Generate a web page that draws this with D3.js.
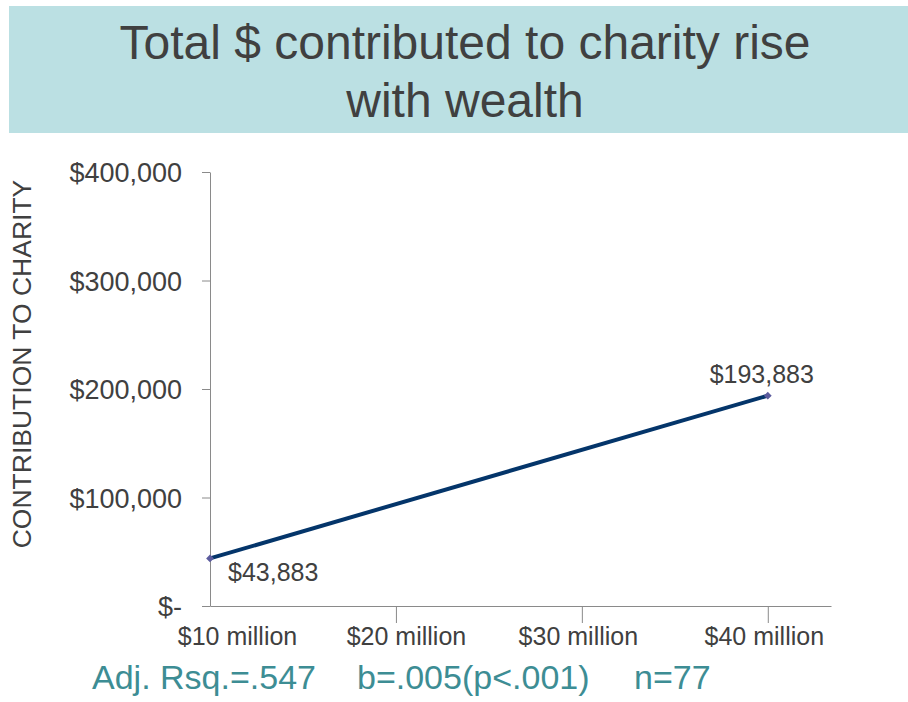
<!DOCTYPE html>
<html>
<head>
<meta charset="utf-8">
<script src="https://cdn.jsdelivr.net/npm/d3@7"></script>
<style>
  html, body { margin: 0; padding: 0; background: #ffffff; }
  svg { display: block; }
  text { font-family: "Liberation Sans", Arial, sans-serif; }
</style>
</head>
<body>
<svg id="chart" width="908" height="702"></svg>
<script>
// Regression fit: predicted contribution at low and high wealth
const wealth = [10e6, 40e6];
const contribution = [43883, 193883];

// Axis ticks and their labels
const yTicks = [0, 100000, 200000, 300000, 400000];
const yTickLabels = ["$-", "$100,000", "$200,000", "$300,000", "$400,000"];
const xTicks = [10e6, 20e6, 30e6, 40e6];
const xTickLabels = ["$10 million", "$20 million", "$30 million", "$40 million"];

const titleLines = ["Total $ contributed to charity rise", "with wealth"];
const yTitle = "CONTRIBUTION TO CHARITY";
const stats = ["Adj. Rsq.=.547", "b=.005(p<.001)", "n=77"];

const svg = d3.select("#chart");
const textColor = "#404040";
const axisColor = "#8a8a8a";

// Title banner
svg.append("rect")
  .attr("x", 9).attr("y", 6)
  .attr("width", 899).attr("height", 127)
  .attr("fill", "#bbe0e3");

svg.selectAll("text.title")
  .data(titleLines)
  .join("text")
  .attr("class", "title")
  .attr("x", 465)
  .attr("y", (d, i) => 59 + i * 58)
  .attr("text-anchor", "middle")
  .attr("font-size", 48)
  .attr("fill", textColor)
  .text(d => d);

// Scales
const x = d3.scaleLinear().domain([10e6, 43.4e6]).range([210, 831]);
const y = d3.scaleLinear().domain([0, 400000]).range([606, 172]);

// Y axis
const yAxis = svg.append("g")
  .attr("transform", `translate(${x.range()[0]},0)`)
  .call(d3.axisLeft(y)
    .tickValues(yTicks)
    .tickSize(8)
    .tickSizeOuter(0)
    .tickPadding(20)
    .tickFormat((d, i) => yTickLabels[i]));
yAxis.select(".domain").attr("stroke", axisColor);
yAxis.selectAll(".tick line").attr("stroke", axisColor);
yAxis.selectAll(".tick text")
  .attr("font-family", "Liberation Sans, Arial, sans-serif")
  .attr("font-size", 27)
  .attr("fill", textColor)
  .attr("dy", "0.36em");

// X axis
const xAxis = svg.append("g")
  .attr("transform", `translate(0,${y.range()[0]})`)
  .call(d3.axisBottom(x)
    .tickValues(xTicks)
    .tickSize(17)
    .tickSizeOuter(0)
    .tickPadding(10)
    .tickFormat((d, i) => xTickLabels[i]));
xAxis.select(".domain").attr("stroke", axisColor);
xAxis.selectAll(".tick line")
  .attr("stroke", axisColor)
  .attr("display", (d, i) => i === 0 ? "none" : null);
xAxis.selectAll(".tick text")
  .attr("font-family", "Liberation Sans, Arial, sans-serif")
  .attr("font-size", 25)
  .attr("fill", textColor)
  .attr("y", 39)
  .attr("dy", 0)
  .attr("dx", (d, i) => i === 0 ? 27 : (i === 1 ? 10 : -4));

// Y axis title
svg.append("text")
  .attr("transform", "translate(31,364) rotate(-90)")
  .attr("text-anchor", "middle")
  .attr("font-size", 26.5)
  .attr("fill", textColor)
  .text(yTitle);

// Fitted line
const pts = wealth.map((w, i) => ({ w, c: contribution[i] }));
svg.append("path")
  .datum(pts)
  .attr("fill", "none")
  .attr("stroke", "#04356a")
  .attr("stroke-width", 4)
  .attr("d", d3.line().x(d => x(d.w)).y(d => y(d.c)));

// Diamond markers
svg.selectAll("path.marker")
  .data(pts)
  .join("path")
  .attr("class", "marker")
  .attr("transform", d => `translate(${x(d.w)},${y(d.c)}) rotate(45)`)
  .attr("d", d3.symbol().type(d3.symbolSquare).size(30))
  .attr("fill", "#5c5c9e");

// Value labels
const fmt = d => "$" + d3.format(",")(d);
svg.selectAll("text.value")
  .data(pts)
  .join("text")
  .attr("class", "value")
  .attr("x", (d, i) => i === 0 ? x(d.w) + 18 : x(d.w) - 6)
  .attr("y", (d, i) => i === 0 ? y(d.c) + 23 : y(d.c) - 13)
  .attr("text-anchor", (d, i) => i === 0 ? "start" : "middle")
  .attr("font-size", 25)
  .attr("fill", textColor)
  .text(d => fmt(d.c));

// Regression statistics
const statX = [92, 357, 634];
svg.selectAll("text.stat")
  .data(stats)
  .join("text")
  .attr("class", "stat")
  .attr("x", (d, i) => statX[i])
  .attr("y", 689)
  .attr("font-size", 34)
  .attr("fill", "#3d8d94")
  .text(d => d);
</script>
</body>
</html>
